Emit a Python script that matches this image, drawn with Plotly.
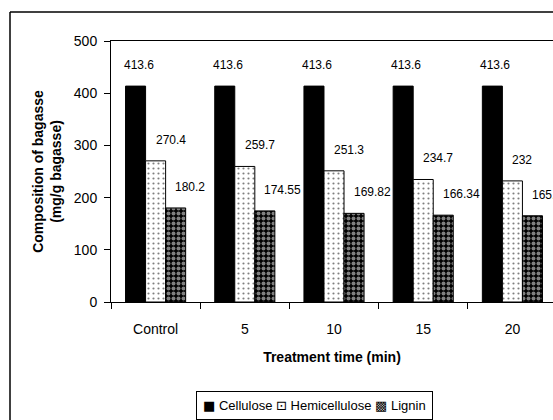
import plotly.graph_objects as go

categories = ["Control", "5", "10", "15", "20"]
cellulose = [413.6, 413.6, 413.6, 413.6, 413.6]
hemicellulose = [270.4, 259.7, 251.3, 234.7, 232]
lignin = [180.2, 174.55, 169.82, 166.34, 165.2]
cellulose_labels = ["413.6", "413.6", "413.6", "413.6", "413.6"]
hemicellulose_labels = ["270.4", "259.7", "251.3", "234.7", "232"]
lignin_labels = ["180.2", "174.55", "169.82", "166.34", "165.2"]
series_names = ["Cellulose", "Hemicellulose", "Lignin"]
legend_symbols = ["\u25A0", "\u22A1", "\u25A9"]

FONT = "Arial, Liberation Sans, sans-serif"

fig = go.Figure()
fig.add_trace(go.Bar(
    name=series_names[0], x=categories, y=cellulose, showlegend=False,
    marker=dict(color="black", line=dict(color="black", width=1)),
))
fig.add_trace(go.Bar(
    name=series_names[1], x=categories, y=hemicellulose, showlegend=False,
    marker=dict(color="white", line=dict(color="black", width=1),
                pattern=dict(shape=".", fgcolor="black", bgcolor="white",
                             size=5, solidity=0.15)),
))
fig.add_trace(go.Bar(
    name=series_names[2], x=categories, y=lignin, showlegend=False,
    marker=dict(color="black", line=dict(color="black", width=1),
                pattern=dict(shape=".", fgcolor="white", bgcolor="black",
                             size=5, solidity=0.5)),
))

annotations = []
for labels, values, xs in [(cellulose_labels, cellulose, -34),
                           (hemicellulose_labels, hemicellulose, -2),
                           (lignin_labels, lignin, 17.5)]:
    for i, (v, t) in enumerate(zip(values, labels)):
        annotations.append(dict(
            x=i, y=v, text=t, showarrow=False, xref="x", yref="y",
            xanchor="left", yanchor="middle", xshift=xs, yshift=21,
            font=dict(family=FONT, size=12, color="black"),
        ))

legend_text = " ".join(
    f"<span style='font-family:DejaVu Sans'>{s}</span> {n}"
    for s, n in zip(legend_symbols, series_names)
)
annotations.append(dict(
    x=(196 - 111) / 442, y=(302 - 391) / 261, xref="paper", yref="paper",
    xanchor="left", yanchor="top", showarrow=False, align="left",
    text=legend_text, font=dict(family=FONT, size=13, color="black"),
    bordercolor="black", borderwidth=1, borderpad=6, bgcolor="white",
))

frame_left = (10 - 111) / 442
frame_top = (302 - 12) / 261
frame_bottom = (302 - 420) / 261
fig.update_layout(
    width=553, height=420,
    margin=dict(l=111, r=0, t=41, b=118),
    paper_bgcolor="white", plot_bgcolor="white",
    barmode="group", bargap=0.326, bargroupgap=0,
    font=dict(family=FONT, size=14, color="black"),
    showlegend=False,
    annotations=annotations,
    shapes=[
        dict(type="line", xref="paper", yref="paper",
             x0=frame_left, x1=1.0, y0=frame_top, y1=frame_top,
             line=dict(color="black", width=1.5), layer="below"),
        dict(type="line", xref="paper", yref="paper",
             x0=frame_left, x1=frame_left, y0=frame_top, y1=frame_bottom,
             line=dict(color="black", width=1.5), layer="below"),
    ],
)

fig.update_xaxes(
    type="category", range=[-0.5, 4.455],
    showline=True, linecolor="black", linewidth=1, mirror=True,
    ticks="outside", tickson="boundaries", ticklen=6, tickcolor="black",
    showgrid=False, zeroline=False,
    tickfont=dict(family=FONT, size=14), ticklabelstandoff=14,
    title=dict(text="<b>Treatment time (min)</b>", standoff=16,
               font=dict(family=FONT, size=14)),
)
fig.update_yaxes(
    range=[0, 500], dtick=100,
    showline=True, linecolor="black", linewidth=1,
    ticks="outside", ticklen=6, tickcolor="black",
    showgrid=False, zeroline=False,
    tickfont=dict(family=FONT, size=14), ticklabelstandoff=4,
    title=dict(text="<b>Composition of bagasse<br>(mg/g bagasse)</b>",
               standoff=8, font=dict(family=FONT, size=14)),
)

fig.write_html(
    "out.html",
    post_script=(
        "document.documentElement.style.overflow='hidden';"
        "document.body.style.overflow='hidden';"
        "document.body.style.margin='0';"
    ),
)
